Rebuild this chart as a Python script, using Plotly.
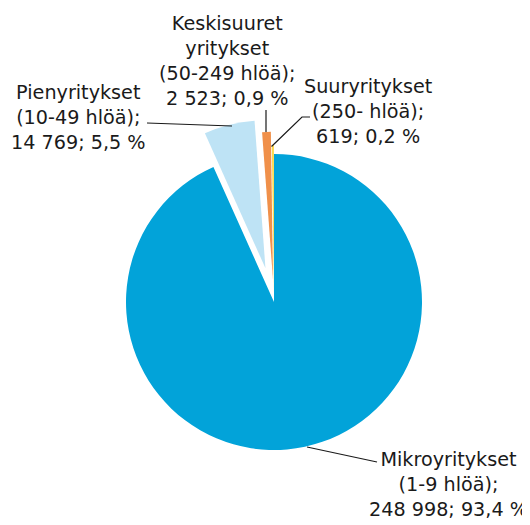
import plotly.graph_objects as go

categories = ["Mikroyritykset", "Pienyritykset", "Keskisuuret yritykset", "Suuryritykset"]
values = [248998, 14769, 2523, 619]
label_texts = [
    "Mikroyritykset<br>(1-9 hlöä);<br>248 998; 93,4 %",
    "Pienyritykset<br>(10-49 hlöä);<br>14 769; 5,5 %",
    "Keskisuuret<br>yritykset<br>(50-249 hlöä);<br>2 523; 0,9 %",
    "Suuryritykset<br>(250- hlöä);<br>619; 0,2 %",
]
colors = ["#02A3D9", "#BEE3F5", "#F0904A", "#FDD94F"]
pulls = [0, 0.235, 0.15, 0.06]

# page body has an 8px margin; work in window pixels and subtract it
OFF = 8
W, H = 530 - OFF, 525 - OFF
cx, cy, r = 274 - OFF, 302 - OFF, 148
half = r * (1 + max(pulls))

fig = go.Figure(go.Pie(
    labels=categories, values=values, sort=False, direction="clockwise",
    rotation=0, pull=pulls, marker=dict(colors=colors, line=dict(width=0)),
    textinfo="none", showlegend=False,
    domain=dict(x=[(cx - half) / W, (cx + half) / W],
                y=[(H - cy - half) / H, (H - cy + half) / H]),
))

def px(x):
    return (x - OFF) / W

def py(y):
    return 1 - (y - OFF) / H

label_pos = [(448, 484), (78, 117.5), (227, 61), (368, 111)]
font = dict(family="DejaVu Sans", size=19.2, color="#1a1a1a")
for t, (x, y) in zip(label_texts, label_pos):
    fig.add_annotation(x=px(x), y=py(y), xref="paper", yref="paper", text=t,
                       showarrow=False, xanchor="center", yanchor="middle",
                       align="center", font=font, borderpad=0)

leaders = [
    [(307, 447), (377, 462)],
    [(147, 123), (232, 126)],
    [(266, 110), (266, 132)],
    [(310, 117), (302, 117), (271.5, 146.5)],
]
for pts in leaders:
    path = "M " + " L ".join(f"{px(x)},{py(y)}" for x, y in pts)
    fig.add_shape(type="path", path=path, xref="paper", yref="paper",
                  line=dict(color="#1a1a1a", width=1.2))

fig.update_layout(width=W, height=H, margin=dict(l=0, r=0, t=0, b=0),
                  paper_bgcolor="white", plot_bgcolor="white")
fig.write_html("out.html")
